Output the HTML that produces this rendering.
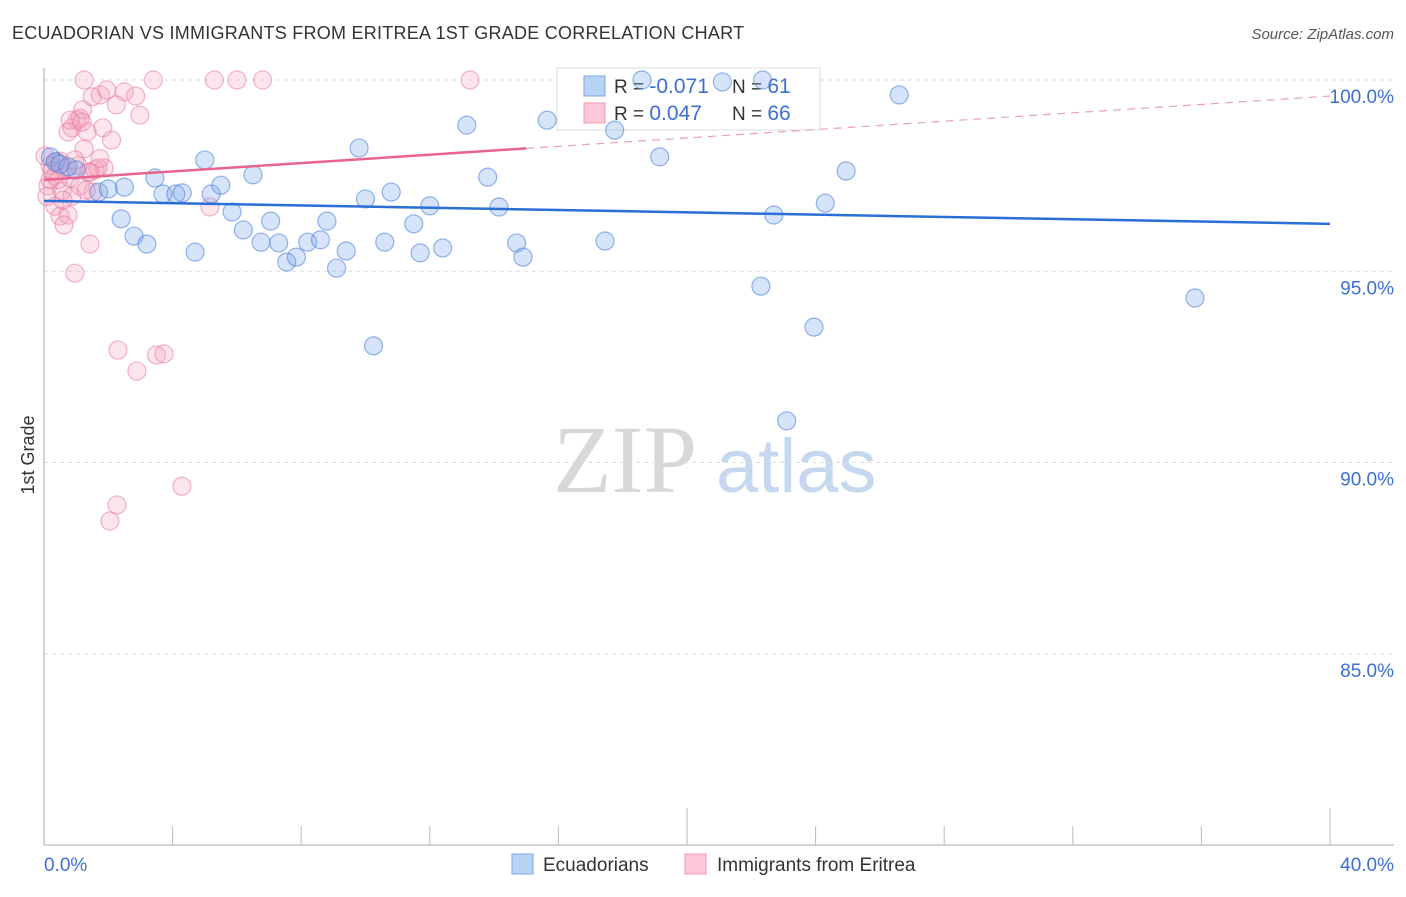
<!DOCTYPE html>
<html><head><meta charset="utf-8"><style>
body{margin:0;background:#fff;font-family:"Liberation Sans",sans-serif;}
</style></head><body>
<svg id="chart" width="1406" height="892" xmlns="http://www.w3.org/2000/svg" font-family="Liberation Sans, sans-serif">
<text x="12" y="39" font-size="18" fill="#333" letter-spacing="0.25">ECUADORIAN VS IMMIGRANTS FROM ERITREA 1ST GRADE CORRELATION CHART</text>
<text x="1394" y="39" font-size="15" fill="#555" font-style="italic" text-anchor="end">Source: ZipAtlas.com</text>
<g>
<text x="553" y="492" font-size="96" font-family="Liberation Serif, serif" fill="#d8d8d8">ZIP</text>
<text x="716" y="492" font-size="76" fill="#c5d8f0">atlas</text>
</g>
<g id="grid"></g>
<g id="axes"></g>
<g>
<rect x="557" y="68" width="263" height="62" fill="#fff" stroke="#ddd"/>
<rect x="584" y="76" width="21" height="20" fill="#b9d3f5" stroke="#7aa6e6"/>
<rect x="584" y="103" width="21" height="20" fill="#fcc8d7" stroke="#ee9bb5"/>
<text x="614" y="93" font-size="19" fill="#333">R = <tspan fill="#3d6fd1" font-size="21">-0.071</tspan></text>
<text x="732" y="93" font-size="19" fill="#333">N = <tspan fill="#3d6fd1" font-size="21">61</tspan></text>
<text x="614" y="120" font-size="19" fill="#333">R = <tspan fill="#3d6fd1" font-size="21"> 0.047</tspan></text>
<text x="732" y="120" font-size="19" fill="#333">N = <tspan fill="#3d6fd1" font-size="21">66</tspan></text>
</g>
<g id="pts"></g>
<g id="lines"></g>
<text transform="translate(34,455) rotate(-90)" font-size="18" fill="#333" text-anchor="middle">1st Grade</text>
<g>
<rect x="512" y="854" width="21" height="20" fill="#b9d3f5" stroke="#7aa6e6"/>
<text x="543" y="871" font-size="19" fill="#333">Ecuadorians</text>
<rect x="685" y="854" width="21" height="20" fill="#fcc8d7" stroke="#ee9bb5"/>
<text x="717" y="871" font-size="19" fill="#333">Immigrants from Eritrea</text>
</g>
</svg>
<script>
const yTicks=[100,95,90,85];
const xTickLabels=["0.0%","40.0%"];
const blueX=[0.2,0.35,0.5,0.75,1,1.7,2,2.4,2.5,2.8,3.2,3.45,3.7,4.1,4.3,4.7,5,5.2,5.5,6.2,5.85,6.5,6.75,7.05,7.3,7.55,7.85,8.2,8.6,8.8,9.1,9.4,9.8,10,10.25,10.6,10.8,11.5,11.7,12,12.4,13.15,13.8,14.15,14.7,14.9,15.65,17.45,17.75,18.6,19.15,21.1,22.3,22.35,22.7,23.1,23.95,24.3,24.95,26.6,35.8];
const blueY=[97.99,97.86,97.8,97.73,97.65,97.07,97.15,96.37,97.2,95.92,95.71,97.44,97.02,97.02,97.05,95.5,97.91,97.02,97.25,96.08,96.55,97.52,95.76,96.31,95.74,95.24,95.37,95.76,95.82,96.31,95.08,95.53,98.22,96.89,93.05,95.76,97.07,96.24,95.48,96.71,95.61,98.82,97.46,96.68,95.74,95.37,98.95,95.79,98.69,100,97.99,99.95,94.61,100,96.47,91.09,93.54,96.78,97.62,99.61,94.3];
const pinkX=[1.25,3.4,5.3,6.0,6.8,13.25,1.5,1.75,1.95,2.5,2.85,2.25,1.2,1.03,0.87,0.75,1.83,1.34,2.1,2.98,1.12,1.25,1.87,1.06,0.5,0.19,0.34,0.12,0.56,0.81,1.12,1.52,0.34,0.5,0.75,0.62,1.43,0.96,5.16,2.3,3.5,3.73,2.89,2.27,2.05,4.29,0.03,0.25,0.68,1.37,0.44,0.09,0.87,1.59,0.19,0.59,0.96,1.31,1.68,0.81,0.4,1.43,1.74,1.18];
const pinkY=[100,100,100,100,100,100,99.56,99.61,99.74,99.69,99.58,99.35,99.22,98.95,98.75,98.64,98.75,98.64,98.43,99.08,99.0,98.2,97.7,97.76,97.88,97.76,97.5,97.23,97.1,97.44,97.23,97.07,96.7,96.44,96.47,96.21,95.71,94.95,96.68,92.94,92.81,92.84,92.39,88.89,88.47,89.38,98.01,97.63,97.7,97.59,97.39,96.96,96.96,97.65,97.4,96.86,97.91,97.12,97.7,98.95,97.86,97.59,97.95,98.9];
const blueTrend=[96.84,96.24];
const pinkTrend=[97.39,99.58];
const pinkSolidEnd=15;
const X=v=>44+v*32.15, Y=v=>80+(100-v)*38.25;
const NS="http://www.w3.org/2000/svg";
function mk(p,t,a){const e=document.createElementNS(NS,t);for(const k in a)e.setAttribute(k,a[k]);document.getElementById(p).appendChild(e);return e;}
yTicks.forEach(t=>{
 const g=mk('grid','line',{x1:44,x2:1394,y1:Y(t),y2:Y(t),stroke:'#ddd','stroke-dasharray':'4,4'});
 
 
 const l=mk('axes','text',{x:1394,y:Y(t)+23,'font-size':19,fill:'#3d6fd1','text-anchor':'end'});
 
 
 l.textContent=t.toFixed(1)+'%';
});
mk('axes','line',{x1:44,x2:44,y1:68,y2:845,stroke:'#aaa'});
mk('axes','line',{x1:44,x2:1394,y1:845,y2:845,stroke:'#aaa'});
for(let i=1;i<=10;i++){const x=X(i*4);mk('axes','line',{x1:x,x2:x,y1:(i==5||i==10)?808:826,y2:845,stroke:'#bbb'});}
[[0,'start'],[40,'end']].forEach((d,i)=>{const t=mk('axes','text',{x:d[0]?1394:44,y:871,'font-size':19,fill:'#3d6fd1','text-anchor':d[1]});
 
 
 t.textContent=xTickLabels[i];});
pinkX.forEach((v,i)=>{const c=mk('pts','circle',{cx:X(v),cy:Y(pinkY[i]),r:9,fill:'rgba(245,160,188,0.28)',stroke:'rgba(232,120,160,0.55)','stroke-width':1.2});
 
 });
blueX.forEach((v,i)=>{const c=mk('pts','circle',{cx:X(v),cy:Y(blueY[i]),r:9,fill:'rgba(120,165,235,0.3)',stroke:'rgba(80,130,220,0.6)','stroke-width':1.2});
 
 });
const bl=mk('lines','line',{x1:X(0),y1:Y(blueTrend[0]),x2:X(40),y2:Y(blueTrend[1]),stroke:'#2a6fd6','stroke-width':2.5});


const pm=pinkTrend[0]+(pinkTrend[1]-pinkTrend[0])*pinkSolidEnd/40;
const pl=mk('lines','line',{x1:X(0),y1:Y(pinkTrend[0]),x2:X(pinkSolidEnd),y2:Y(pm),stroke:'#e8638f','stroke-width':2.5});


const pd=mk('lines','line',{x1:X(pinkSolidEnd),y1:Y(pm),x2:X(40),y2:Y(pinkTrend[1]),stroke:'#e8a0b8','stroke-width':1.2,'stroke-dasharray':'8,6'});


</script>
</body></html>
